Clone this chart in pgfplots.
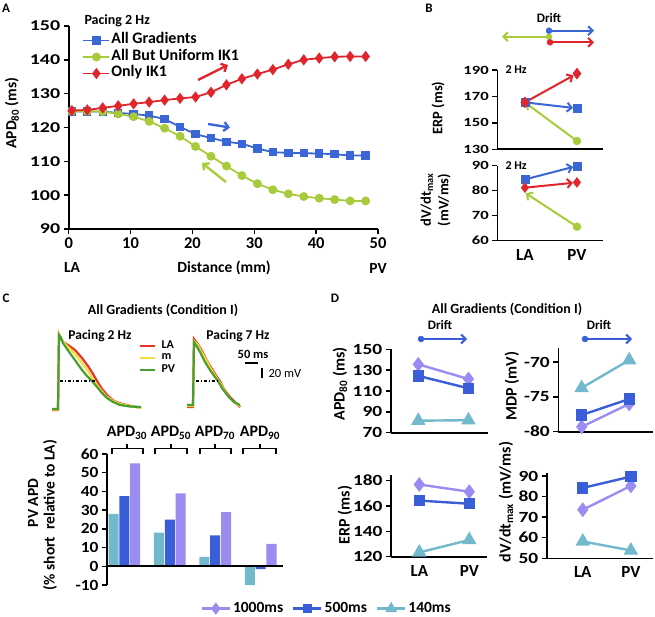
\documentclass[border=0pt]{standalone}
\usepackage{pgfplots}
\pgfplotsset{compat=1.18}
\usepackage{pgfplotstable}
\usepackage{fontspec}
\setmainfont{Carlito}
\newfontfamily\tfA{Carlito}[FakeStretch=1.33]
\newfontfamily\tfB{Carlito}[FakeStretch=1.25]
\newfontfamily\tfC{Carlito}[FakeStretch=1.12]
\usetikzlibrary{arrows.meta}

\definecolor{ablue}{HTML}{3B66D6}
\definecolor{agreen}{HTML}{A8CB3B}
\definecolor{ared}{HTML}{E0262C}
\definecolor{dpurple}{HTML}{9A8CF0}
\definecolor{dblue}{HTML}{3A5ED8}
\definecolor{dteal}{HTML}{72B9CD}
\definecolor{tred}{HTML}{E8322A}
\definecolor{tyellow}{HTML}{F3E03C}
\definecolor{tgreen}{HTML}{489E32}

\newcommand{\fs}[1]{\fontsize{#1}{#1}\selectfont\bfseries}
% brace over a bar group, in overlay pixel units: left, right, centre
\newcommand{\grpbrace}[3]{%
  \draw[black, line width=1.2pt] (axis cs:#1,454) -- (axis cs:#1,448.3) -- (axis cs:#2,448.3) -- (axis cs:#2,454);
  \draw[black, line width=1.2pt] (axis cs:#3,448.3) -- (axis cs:#3,443.5);}

% panel A: APD80 along the LA-PV strand
\pgfplotstableread{
x    red   blue  green
0.5  125.0 124.7 124.8
3    125.2 124.7 124.8
5.5  125.8 124.7 124.7
8    126.4 124.3 124.0
10.5 127.0 124.0 123.2
13   127.5 123.5 121.8
15.5 128.1 122.5 119.8
18   128.6 120.2 117.4
20.5 129.0 118.0 114.4
23   130.4 116.9 111.5
25.5 132.6 115.8 108.6
28   134.4 115.2 105.8
30.5 135.8 113.8 103.4
33   137.1 112.7 101.6
35.5 138.7 112.5 100.4
38   140.0 112.4 99.6
40.5 140.5 112.3 99.1
43   140.9 112.1 98.7
45.5 141.0 111.7 98.3
48   141.0 111.7 98.3
}\apdA

\pgfplotsset{
  panel/.style={
    scale only axis, anchor=south west, clip=false,
    axis x line*=bottom, axis y line*=left,
    axis line style={-, line width=1.6pt, black},
    tick style={line width=1.4pt, black},
    major tick length=5pt, tick align=outside,
    /pgf/number format/assume math mode=true,
    /pgf/number format/1000 sep={},
    y tick label style={font=\tfB\fs{15.5}},
    x tick label style={font=\fs{16}},
  },
  lapv/.style={xtick={0,1}, xticklabels={LA,PV}, xtick style={draw=none},
    x tick label style={font=\fs{17}}},
  barb/.style={-{Straight Barb[length=4.5pt,width=9pt]}},
  dline/.style={line width=2.4pt},
}

\begin{document}
\begin{tikzpicture}
\useasboundingbox (0,0) rectangle (655pt,616pt);

% ---------- A ----------
\begin{axis}[panel, at={(68.7pt,387pt)}, width=309.3pt, height=203pt,
  xmin=0, xmax=50, ymin=90, ymax=150,
  xtick={0,10,...,50}, ytick={90,100,...,150},
  y tick label style={font=\tfA\fs{15}},
  x tick label style={font=\fs{16.5}},
  legend style={at={(0.044,0.970)}, anchor=north west, draw=none, fill=none,
    font=\fs{16}, row sep=0pt, inner sep=0pt,
    nodes={inner sep=1pt, text height=10.5pt, text depth=4pt}},
  legend cell align=left,
  legend image code/.code={\draw[mark repeat=2,mark phase=2,#1]
    plot coordinates {(0pt,0pt) (13pt,0pt) (26pt,0pt)};}]
\addplot[ablue, line width=1.8pt, mark=square*, mark size=3.3pt] table[y=blue] {\apdA};
\addlegendentry{All Gradients}
\addplot[agreen, line width=1.8pt, mark=*, mark size=3.5pt] table[y=green] {\apdA};
\addlegendentry{All But Uniform IK1}
\addplot[ared, line width=1.8pt, mark=diamond*, mark size=4.2pt] table[y=red] {\apdA};
\addlegendentry{Only IK1}
\end{axis}

% ---------- B ----------
\begin{axis}[panel, at={(497.3pt,466.7pt)}, width=105.7pt, height=79.3pt,
  xmin=-0.53, xmax=1.5, ymin=130, ymax=190, ytick={130,150,170,190}, xtick=\empty,
  y tick label style={font=\tfA\fs{12.5}}]
\addplot[agreen, line width=2pt, barb, shorten >=1pt] coordinates {(1,136.3) (0,165.5)};
\addplot[agreen, only marks, mark=*, mark size=4pt] coordinates {(1,136.3)};
\addplot[ablue, line width=2pt, barb, shorten >=4pt] coordinates {(0,165.5) (1,161)};
\addplot[ablue, only marks, mark=square*, mark size=4pt] coordinates {(0,165.5) (1,161)};
\addplot[ared, line width=2pt, barb, shorten >=4pt] coordinates {(0,165.5) (1,187.3)};
\addplot[ared, only marks, mark=diamond*, mark size=5.5pt] coordinates {(0,165.5) (1,187.3)};
\end{axis}

\begin{axis}[panel, lapv, at={(497.3pt,375.3pt)}, width=105.7pt, height=75pt,
  xmin=-0.53, xmax=1.5, ymin=60, ymax=90, ytick={60,70,80,90},
  y tick label style={font=\tfA\fs{12.5}}]
\addplot[agreen, line width=2pt, barb, shorten >=1pt] coordinates {(1,65.6) (0,79.2)};
\addplot[agreen, only marks, mark=*, mark size=4pt] coordinates {(1,65.6)};
\addplot[ablue, line width=2pt, barb, shorten >=4pt] coordinates {(0,84.5) (1,89.9)};
\addplot[ablue, only marks, mark=square*, mark size=4pt] coordinates {(0,84.5) (1,89.9)};
\addplot[ared, line width=2pt, barb, shorten >=4pt] coordinates {(0,81.2) (1,83.3)};
\addplot[ared, only marks, mark=diamond*, mark size=5pt] coordinates {(0,81.2) (1,83.3)};
\end{axis}

% ---------- C bars ----------
\begin{axis}[panel, at={(107pt,31pt)}, width=176pt, height=131pt,
  axis x line=none,
  xmin=-0.38, xmax=3.49, ymin=-10, ymax=60, ytick={-10,0,...,60},
  y tick label style={font=\tfC\fs{15.5}},
  ybar, bar width=0.22, bar shift=0pt]
\addplot[fill=dteal, draw=none] coordinates {(-0.237,28) (0.763,18) (1.763,5) (2.763,-10)};
\addplot[fill=dblue, draw=none] coordinates {(0,37.5) (1,25) (2,16.5) (3,-1.5)};
\addplot[fill=dpurple, draw=none] coordinates {(0.237,55) (1.237,39) (2.237,29) (3.237,12)};
\draw[line width=1.6pt] (axis cs:-0.38,0) -- (axis cs:3.49,0);
\end{axis}

% ---------- D ----------
\begin{axis}[panel, at={(390.7pt,183.3pt)}, width=97.3pt, height=83.4pt,
  xmin=-0.55, xmax=1.39, ymin=70, ymax=150, ytick={70,90,...,150}, xtick=\empty]
\addplot[dpurple, dline, mark=diamond*, mark size=5.5pt] coordinates {(0,135.6) (1,121.5)};
\addplot[dblue, dline, mark=square*, mark size=4.5pt] coordinates {(0,124.5) (1,112.6)};
\addplot[dteal, dline, mark=triangle*, mark size=6pt] coordinates {(0,81.5) (1,82)};
\end{axis}

\begin{axis}[panel, at={(558.3pt,184.3pt)}, width=94.7pt, height=83.4pt,
  xmin=-0.49, xmax=1.5, ymin=-80, ymax=-68, ytick={-80,-75,-70}, xtick=\empty]
\addplot[dpurple, dline, mark=diamond*, mark size=5.5pt] coordinates {(0,-79.3) (1,-76.0)};
\addplot[dblue, dline, mark=square*, mark size=4.5pt] coordinates {(0,-77.6) (1,-75.3)};
\addplot[dteal, dline, mark=triangle*, mark size=6pt] coordinates {(0,-73.7) (1,-69.7)};
\end{axis}

\begin{axis}[panel, lapv, at={(391pt,59.3pt)}, width=96pt, height=81.7pt,
  xmin=-0.566, xmax=1.354, ymin=120, ymax=184.5, ytick={120,140,...,180}]
\addplot[dpurple, dline, mark=diamond*, mark size=5.5pt] coordinates {(0,177) (1,171.3)};
\addplot[dblue, dline, mark=square*, mark size=4.5pt] coordinates {(0,164.3) (1,161.8)};
\addplot[dteal, dline, mark=triangle*, mark size=6pt] coordinates {(0,123.4) (1,133.2)};
\end{axis}

\begin{axis}[panel, lapv, at={(546.7pt,57.7pt)}, width=106.3pt, height=85pt,
  xmin=-0.75, xmax=1.46, ymin=50, ymax=91.3, ytick={50,60,...,90}]
\addplot[dpurple, dline, mark=diamond*, mark size=5.5pt] coordinates {(0,73.6) (1,85.2)};
\addplot[dblue, dline, mark=square*, mark size=4.5pt] coordinates {(0,84.2) (1,89.7)};
\addplot[dteal, dline, mark=triangle*, mark size=6pt] coordinates {(0,58.2) (1,53.8)};
\end{axis}

% ---------- overlay in pixel units: texts, arrows, traces, legend ----------
\begin{axis}[scale only axis, anchor=south west, at={(0pt,0pt)},
  width=655pt, height=616pt, xmin=0, xmax=655, ymin=0, ymax=616,
  y dir=reverse, hide axis, clip=false,
  legend columns=3,
  legend style={at={(0.306,0.012)}, anchor=west, draw=none, fill=none,
    font=\fs{15.5}, inner sep=0pt,
    /tikz/every even column/.append style={column sep=7pt}},
  legend image code/.code={\draw[mark repeat=2,mark phase=2,#1]
    plot coordinates {(0pt,0pt) (14pt,0pt) (28pt,0pt)};}]
\addlegendimage{dpurple, line width=2.4pt, mark=diamond*, mark size=4.2pt}
\addlegendentry{1000ms}
\addlegendimage{dblue, line width=2.4pt, mark=square*, mark size=3.5pt}
\addlegendentry{500ms}
\addlegendimage{dteal, line width=2.4pt, mark=triangle*, mark size=4.5pt}
\addlegendentry{140ms}

% panel letters and titles
\node[font=\fs{13}] at (axis cs:6,8) {A};
\node[font=\fs{13}] at (axis cs:429,8) {B};
\node[font=\fs{13}] at (axis cs:6,298) {C};
\node[font=\fs{13}] at (axis cs:335,298) {D};

% A texts and arrows
\node[font=\fs{14}, anchor=west] at (axis cs:81,21) {Pacing 2 Hz};
\node[font=\fs{15.5}, rotate=90] at (axis cs:12,113) {APD\textsubscript{80} (ms)};
\node[font=\fs{15.5}] at (axis cs:72,267) {LA};
\node[font=\fs{15.5}] at (axis cs:224,268) {Distance (mm)};
\node[font=\fs{15.5}] at (axis cs:378,268) {PV};
\addplot[ared, line width=2.4pt, barb, forget plot] coordinates {(198,80) (228,65)};
\addplot[ablue, line width=2.4pt, barb, forget plot] coordinates {(208,124) (230,127.5)};
\addplot[agreen, line width=2.4pt, barb, forget plot] coordinates {(226,182) (202,163)};

% B texts and drift arrows
\node[font=\fs{13}] at (axis cs:549,18) {Drift};
\addplot[agreen, line width=2pt, barb, forget plot] coordinates {(549,36.7) (502,36.7)};
\addplot[ablue, line width=2pt, barb, forget plot] coordinates {(549,30.7) (594,30.7)};
\addplot[ared, line width=2pt, barb, forget plot] coordinates {(550,42.3) (594,42.3)};
\addplot[agreen, only marks, mark=*, mark size=3pt, forget plot] coordinates {(549,36.7)};
\addplot[ablue, only marks, mark=*, mark size=3pt, forget plot] coordinates {(549,30.7)};
\addplot[ared, only marks, mark=*, mark size=3pt, forget plot] coordinates {(550,42.3)};
\node[font=\fs{12}, anchor=west] at (axis cs:502,70) {2 Hz};
\node[font=\fs{12}, anchor=west] at (axis cs:502,166) {2 Hz};
\node[font=\fs{14.5}, rotate=90] at (axis cs:438,108) {ERP (ms)};
\node[font=\fs{14.5}, rotate=90] at (axis cs:427,200) {dV/dt\textsubscript{max}};
\node[font=\fs{14.5}, rotate=90] at (axis cs:444,200) {(mV/ms)};

% C texts, traces
\node[font=\fs{14}] at (axis cs:163,310) {All Gradients (Condition I)};
\node[font=\fs{13.5}] at (axis cs:100,336) {Pacing 2 Hz};
\node[font=\fs{13.5}] at (axis cs:238,336) {Pacing 7 Hz};
\addplot[tred, line width=2.2pt, forget plot] coordinates {
  (52,410) (58,410) (59,334) (63,342) (68,345) (75,350) (82,358) (88,366) (93,374)
  (97,381) (102,389) (108,396) (114,401) (122,404) (131,406) (141,408)};
\addplot[tyellow, line width=2.2pt, forget plot] coordinates {
  (52,409.5) (58,409.5) (59,334) (63,342) (68,347) (75,354) (82,363) (88,371)
  (94,381) (100,389) (106,396) (113,401) (120,404) (130,406) (141,408)};
\addplot[tgreen, line width=2.2pt, forget plot] coordinates {
  (52,409) (58,409) (59,335) (61,338) (63,343) (67,349) (72,356) (77,363) (82,370)
  (87,376) (92,381) (97,387) (102,393) (107,398) (113,402) (120,405) (130,406.5) (141,407)};
\addplot[tred, line width=2.2pt, forget plot] coordinates {
  (187,407) (193,407) (194,339) (197,343) (202,351) (207,361) (212,369) (217,377)
  (220,381) (224,389) (230,397) (236,403) (240,407)};
\addplot[tyellow, line width=2.2pt, forget plot] coordinates {
  (187,406) (193,406) (194,341) (197,344) (201,351) (206,360) (211,369) (216,377)
  (219,381) (223,388) (229,397) (235,403) (240,406)};
\addplot[tgreen, line width=2.2pt, forget plot] coordinates {
  (187,405) (193,405) (194,342) (196,345) (200,352) (205,362) (210,370) (215,377)
  (218,381) (222,388) (228,396) (234,402) (240,405)};
\draw[black, line width=1.1pt, dash dot] (axis cs:60,381) -- (axis cs:97,381);
\draw[black, line width=1.1pt, dash dot] (axis cs:196,381) -- (axis cs:218,381);
\addplot[tred, line width=2.2pt, forget plot] coordinates {(140,346) (155,346)};
\addplot[tyellow, line width=2.2pt, forget plot] coordinates {(140,358) (155,358)};
\addplot[tgreen, line width=2.2pt, forget plot] coordinates {(140,370) (155,370)};
\node[font=\fs{12}, anchor=west] at (axis cs:158,345) {LA};
\node[font=\fs{12}, anchor=west] at (axis cs:158,357) {m};
\node[font=\fs{12}, anchor=west] at (axis cs:158,369) {PV};
\draw[black, line width=2.4pt] (axis cs:245,363) -- (axis cs:258,363);
\draw[black, line width=2.4pt] (axis cs:262,368) -- (axis cs:262,377.5);
\node[font=\fs{12.5}] at (axis cs:253,354) {50 ms};
\node[font=\mdseries\fontsize{12.5}{12.5}\selectfont, anchor=west] at (axis cs:265,373) {20 mV};

% C braces and labels
\grpbrace{112}{143}{127}
\grpbrace{155}{187}{171}
\grpbrace{200}{231}{215}
\grpbrace{243}{276}{260}
\node[font=\fs{16}] at (axis cs:127,433) {APD\textsubscript{30}};
\node[font=\fs{16}] at (axis cs:171,433) {APD\textsubscript{50}};
\node[font=\fs{16}] at (axis cs:215,433) {APD\textsubscript{70}};
\node[font=\fs{16}] at (axis cs:260,433) {APD\textsubscript{90}};
\node[font=\fs{15.5}, rotate=90] at (axis cs:33,503) {PV APD};
\node[font=\fs{15.5}, rotate=90] at (axis cs:50,515) {(\% short\ \ relative to LA)};

% D texts and drift arrows
\node[font=\fs{14}] at (axis cs:507,309) {All Gradients (Condition I)};
\node[font=\fs{13}] at (axis cs:440,325) {Drift};
\node[font=\fs{13}] at (axis cs:599,325) {Drift};
\addplot[dblue, line width=2pt, barb, forget plot] coordinates {(421,339) (467,339)};
\addplot[dblue, line width=2pt, barb, forget plot] coordinates {(585,339) (632,339)};
\addplot[dblue, only marks, mark=*, mark size=3pt, forget plot] coordinates {(421,339) (585,339)};
\node[font=\fs{16}, rotate=90] at (axis cs:340,384) {APD\textsubscript{80} (ms)};
\node[font=\fs{16}, rotate=90] at (axis cs:512,386) {MDP (mV)};
\node[font=\fs{16}, rotate=90] at (axis cs:345,515) {ERP (ms)};
\node[font=\fs{16}, rotate=90] at (axis cs:506,502) {dV/dt\textsubscript{max} (mV/ms)};
\end{axis}
\end{tikzpicture}
\end{document}
